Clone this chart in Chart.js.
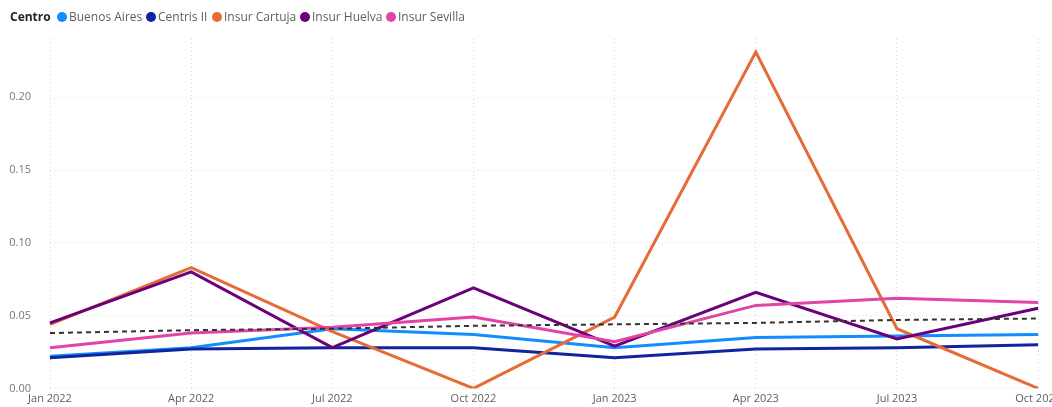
<!DOCTYPE html>
<html>
<head>
<meta charset="utf-8">
<script src="https://cdn.jsdelivr.net/npm/chart.js@4.4.1/dist/chart.umd.min.js"></script>
<style>
    html, body { margin: 0; padding: 0; background: #fff; overflow: hidden; }
    body { width: 1052px; height: 407px; position: relative; font-family: 'Segoe UI', 'Open Sans', sans-serif; }
    #wrap { position: absolute; left: 0; top: 0; width: 1065px; height: 414px; }
    .legend { position: absolute; top: 9px; left: 0; height: 16px; font-size: 12px; color: #605E5C; }
    .legend span { position: absolute; top: 0; white-space: nowrap; line-height: 16px; }
    .legend .title { font-weight: bold; color: #252423; }
    .legend i { position: absolute; top: 3px; width: 10px; height: 10px; border-radius: 50%; }
</style>
</head>
<body>
<div id="wrap"><canvas id="chart"></canvas></div>
<div class="legend" id="legend"></div>

<script>
// Data (quarterly)
const categories = ['Jan 2022', 'Apr 2022', 'Jul 2022', 'Oct 2022', 'Jan 2023', 'Apr 2023', 'Jul 2023', 'Oct 2023'];
const seriesNames = ['Buenos Aires', 'Centris II', 'Insur Cartuja', 'Insur Huelva', 'Insur Sevilla'];
const buenosAires  = [0.022, 0.028, 0.041, 0.037, 0.028, 0.035, 0.036, 0.037];
const centrisII    = [0.021, 0.027, 0.028, 0.028, 0.021, 0.027, 0.028, 0.030];
const insurCartuja = [0.044, 0.083, 0.039, 0.000, 0.049, 0.231, 0.041, 0.000];
const insurHuelva  = [0.045, 0.080, 0.028, 0.069, 0.029, 0.066, 0.034, 0.055];
const insurSevilla = [0.028, 0.038, 0.042, 0.049, 0.032, 0.057, 0.062, 0.059];
const trendLine    = [0.038, 0.040, 0.041, 0.043, 0.044, 0.045, 0.047, 0.048];
const yTicks = [0, 0.05, 0.10, 0.15, 0.20];

const colors = ['#118DFF', '#12239E', '#E66C37', '#6B007B', '#E044A7'];
const legendX = [62, 151, 217, 305, 391];

// HTML legend
const legend = document.getElementById('legend');
legend.innerHTML = '<span class="title" style="left:10px">Centro</span>' +
    seriesNames.map((name, i) =>
        '<i style="left:' + (legendX[i] - 5) + 'px;background:' + colors[i] + '"></i>' +
        '<span style="left:' + (legendX[i] + 7) + 'px">' + name + '</span>'
    ).join('');

const allSeries = [buenosAires, centrisII, insurCartuja, insurHuelva, insurSevilla];
const datasets = allSeries.map((values, i) => ({
    label: seriesNames[i],
    data: values,
    borderColor: colors[i],
    backgroundColor: colors[i],
    borderWidth: 3,
    pointRadius: 0,
    tension: 0,
    order: allSeries.length - i + 1
}));
datasets.push({
    label: 'Tendencia',
    data: trendLine,
    borderColor: '#333333',
    borderWidth: 2,
    borderDash: [5, 4],
    pointRadius: 0,
    tension: 0,
    order: 0
});

const gridDots = { color: '#d9d9d9', lineWidth: 1, drawTicks: false };

new Chart(document.getElementById('chart'), {
    type: 'line',
    data: { labels: categories, datasets: datasets },
    options: {
        responsive: true,
        maintainAspectRatio: false,
        animation: false,
        layout: { padding: { top: 39, left: 0, right: 0, bottom: 0 } },
        plugins: { legend: { display: false }, tooltip: { enabled: false } },
        scales: {
            x: {
                offset: false,
                grid: gridDots,
                border: { display: false, dash: [1, 3] },
                ticks: {
                    color: '#605E5C',
                    font: { family: "'Segoe UI', 'Open Sans', sans-serif", size: 11 },
                    padding: 4,
                    maxRotation: 0,
                    autoSkip: false
                },
                afterFit: (scale) => { scale.height = 20; }
            },
            y: {
                min: 0,
                max: 0.24,
                grid: gridDots,
                border: { display: false, dash: [1, 3] },
                ticks: {
                    color: '#777777',
                    font: { family: "'Segoe UI', 'Open Sans', sans-serif", size: 11 },
                    padding: 19,
                    callback: (v) => v.toFixed(2)
                },
                afterBuildTicks: (scale) => {
                    scale.ticks = yTicks.map(v => ({ value: v }));
                },
                afterFit: (scale) => { scale.width = 50; }
            }
        }
    }
});
</script>
</body>
</html>
